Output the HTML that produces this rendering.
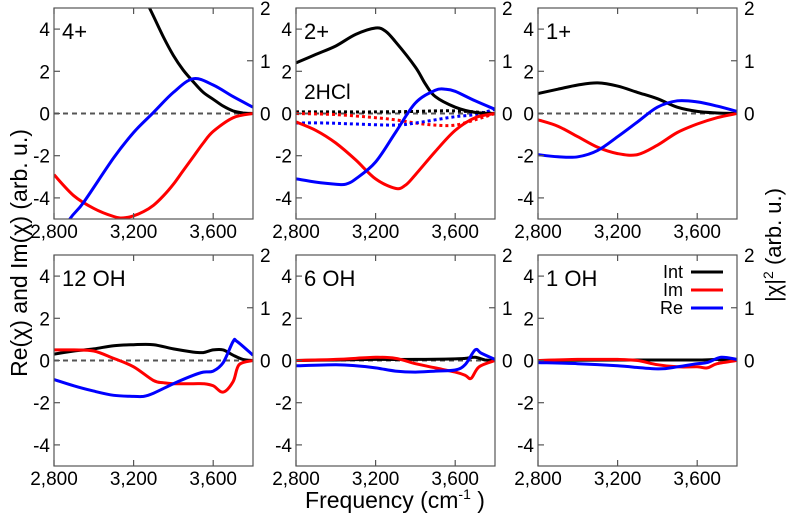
<!DOCTYPE html>
<html><head><meta charset="utf-8"><style>
body{margin:0;background:#fff;}
svg{display:block;font-family:"Liberation Sans",Arial,sans-serif;}
</style></head><body>
<svg id="chart" width="787" height="516" viewBox="0 0 787 516" xmlns="http://www.w3.org/2000/svg"></svg>
<script>
// ---- data (freq in cm^-1, Re/Im in left-axis units, Int in right-axis units) ----
const panelNames = ["4+","2+","1+","12 OH","6 OH","1 OH"];
const xTicks = [2800,3200,3600];
const xTickLabels = ["2,800","3,200","3,600"];
const yTicks = [-4,-2,0,2,4];
const yTickLabels = ["-4","-2","0","2","4"];
const rTicks = [0,1,2];
const rTickLabels = ["0","1","2"];

const f4int=[2800,3000,3200,3280,3350,3400,3450,3500,3550,3600,3650,3700,3750,3800];
const v4int=[4.2,3.5,2.6,2.0,1.45,1.1,0.82,0.6,0.4,0.27,0.14,0.05,0.01,0];
const f4re=[2750,2800,2880,2950,3100,3200,3300,3400,3500,3600,3700,3800];
const v4re=[-7.2,-6.4,-5.0,-4.2,-2.1,-0.9,0.05,1.0,1.65,1.35,0.8,0.3];
const f4im=[2800,2900,3000,3100,3150,3200,3250,3300,3350,3400,3450,3500,3550,3600,3700,3800];
const v4im=[-2.9,-3.9,-4.5,-4.88,-4.95,-4.85,-4.65,-4.35,-3.9,-3.35,-2.7,-2.05,-1.4,-0.85,-0.2,0];

const f2int=[2800,2900,3000,3100,3200,3250,3300,3400,3450,3500,3600,3700,3800];
const v2int=[0.96,1.12,1.28,1.5,1.62,1.56,1.36,0.88,0.56,0.32,0.12,0.02,0];
const f2re=[2800,2900,3000,3050,3100,3200,3300,3400,3500,3550,3600,3700,3800];
const v2re=[-3.1,-3.25,-3.35,-3.35,-3.1,-2.3,-0.9,0.5,1.1,1.15,1.05,0.6,0.2];
const f2im=[2800,2900,3000,3100,3200,3300,3350,3400,3500,3600,3700,3800];
const v2im=[-0.4,-0.8,-1.4,-2.2,-3.1,-3.55,-3.4,-2.9,-1.8,-0.8,-0.2,0];
const f2intD=[2800,3000,3200,3400,3500,3600,3700,3800];
const v2intD=[0.03,0.03,0.03,0.04,0.05,0.05,0.03,0];
const f2reD=[2800,2950,3100,3300,3400,3500,3600,3700,3800];
const v2reD=[-0.45,-0.45,-0.5,-0.55,-0.45,-0.3,-0.15,-0.05,0.2];
const f2imD=[2800,3000,3200,3300,3400,3500,3600,3700,3800];
const v2imD=[0,-0.05,-0.2,-0.3,-0.45,-0.55,-0.55,-0.3,0];

const f1int=[2800,2900,3000,3100,3200,3300,3400,3500,3600,3700,3800];
const v1int=[0.38,0.46,0.54,0.58,0.52,0.4,0.28,0.12,0.04,0.01,0];
const f1re=[2800,2900,3000,3100,3200,3300,3400,3500,3600,3700,3800];
const v1re=[-1.95,-2.05,-2.05,-1.75,-1.1,-0.4,0.3,0.6,0.55,0.35,0.1];
const f1im=[2800,2900,3000,3100,3200,3300,3400,3500,3600,3700,3800];
const v1im=[-0.3,-0.6,-1.1,-1.6,-1.9,-1.95,-1.5,-0.9,-0.5,-0.2,0];

const f12int=[2800,2900,3000,3100,3200,3300,3400,3500,3550,3600,3650,3700,3750,3800];
const v12int=[0.12,0.18,0.22,0.28,0.3,0.3,0.22,0.16,0.15,0.2,0.2,0.1,0.02,0];
const f12re=[2800,2900,3000,3100,3200,3250,3300,3400,3500,3550,3600,3650,3700,3720,3800];
const v12re=[-0.9,-1.2,-1.45,-1.65,-1.7,-1.7,-1.55,-1.1,-0.7,-0.55,-0.5,-0.1,0.9,0.9,0.25];
const f12im=[2800,2900,3000,3100,3200,3300,3350,3400,3500,3550,3600,3650,3700,3730,3800];
const v12im=[0.5,0.5,0.45,0.1,-0.3,-0.95,-1.05,-1.1,-1.1,-1.1,-1.2,-1.5,-1.0,-0.2,0];

const f6int=[2800,3000,3200,3400,3600,3650,3700,3750,3800];
const v6int=[0,0.01,0.02,0.02,0.03,0.04,0.06,0.01,0];
const f6re=[2800,3000,3100,3200,3300,3400,3500,3600,3650,3700,3730,3800];
const v6re=[-0.25,-0.2,-0.25,-0.35,-0.5,-0.55,-0.5,-0.45,-0.2,0.5,0.35,0.05];
const f6im=[2800,3000,3200,3300,3400,3500,3600,3650,3680,3720,3800];
const v6im=[0,0.05,0.15,0.1,-0.15,-0.35,-0.55,-0.7,-0.85,-0.3,0];

const f1oint=[2800,3200,3600,3700,3800];
const v1oint=[0,0.01,0.01,0.02,0];
const f1ore=[2800,3000,3200,3400,3500,3600,3650,3720,3800];
const v1ore=[-0.1,-0.15,-0.25,-0.4,-0.3,-0.15,-0.1,0.15,0.05];
const f1oim=[2800,3000,3200,3300,3400,3500,3600,3650,3700,3800];
const v1oim=[0,0.05,0.05,0,-0.2,-0.3,-0.3,-0.35,-0.15,0];

const panelSeries=[
 [[f4int,v4int,"int",0],[f4im,v4im,"im",0],[f4re,v4re,"re",0]],
 [[f2intD,v2intD,"int",1],[f2imD,v2imD,"im",1],[f2reD,v2reD,"re",1],[f2int,v2int,"int",0],[f2im,v2im,"im",0],[f2re,v2re,"re",0]],
 [[f1int,v1int,"int",0],[f1im,v1im,"im",0],[f1re,v1re,"re",0]],
 [[f12int,v12int,"int",0],[f12im,v12im,"im",0],[f12re,v12re,"re",0]],
 [[f6int,v6int,"int",0],[f6im,v6im,"im",0],[f6re,v6re,"re",0]],
 [[f1oint,v1oint,"int",0],[f1oim,v1oim,"im",0],[f1ore,v1ore,"re",0]]
];

const NS="http://www.w3.org/2000/svg";
const svg=document.getElementById("chart");
const colors={int:"#000",im:"#f00",re:"#00f"};
const lefts=[54,296,538], tops=[8,255], PW=199, PH=211;
function mk(tag,attrs,parent){const e=document.createElementNS(NS,tag);for(const k in attrs)e.setAttribute(k,attrs[k]);(parent||svg).appendChild(e);return e;}
function smooth(pts){let d="M"+pts[0][0].toFixed(1)+","+pts[0][1].toFixed(1);
 for(let i=0;i<pts.length-1;i++){const p0=pts[Math.max(0,i-1)],p1=pts[i],p2=pts[i+1],p3=pts[Math.min(pts.length-1,i+2)];
  const c1=[p1[0]+(p2[0]-p0[0])/6,p1[1]+(p2[1]-p0[1])/6],c2=[p2[0]-(p3[0]-p1[0])/6,p2[1]-(p3[1]-p1[1])/6];
  d+="C"+c1[0].toFixed(1)+","+c1[1].toFixed(1)+" "+c2[0].toFixed(1)+","+c2[1].toFixed(1)+" "+p2[0].toFixed(1)+","+p2[1].toFixed(1);}
 return d;}
const defs=mk("defs",{});
panelNames.forEach((name,pi)=>{
 const x0=lefts[pi%3], y0=tops[Math.floor(pi/3)];
 const xS=f=>x0+(f-2800)/1000*PW;
 const yS=v=>y0+PH/2-v*(PH/10);
 const rS=v=>y0+PH/2-v*(PH/4);
 const g=mk("g",{});
 
 
 const cp=mk("clipPath",{id:"cp"+pi},defs);mk("rect",{x:x0,y:y0,width:PW,height:PH},cp);
 const z=mk("line",{x1:x0,x2:x0+PW,y1:yS(0),y2:yS(0),stroke:"#555","stroke-width":2,"stroke-dasharray":"5,4"},g);
 
 const sg=mk("g",{"clip-path":"url(#cp"+pi+")"},g);
 panelSeries[pi].forEach(([fs,vs,kind,dot])=>{
  const pts=fs.map((f,i)=>[xS(f),kind==="int"?rS(vs[i]):yS(vs[i])]);
  const p=mk("path",{d:smooth(pts),fill:"none",stroke:colors[kind],"stroke-width":3,"stroke-linejoin":"round"},sg);
  if(dot)p.setAttribute("stroke-dasharray","3,3");
  
  
 });
 const fr=mk("rect",{x:x0,y:y0,width:PW,height:PH,fill:"none",stroke:"#555","stroke-width":1.2},g);
 
 yTicks.forEach((t,i)=>{mk("line",{x1:x0,x2:x0+6,y1:yS(t),y2:yS(t),stroke:"#555","stroke-width":1.2},g);
  const tx=mk("text",{x:x0-4,y:yS(t)+7,"text-anchor":"end","font-size":19,fill:"#000"},g);tx.textContent=yTickLabels[i];
  });
 rTicks.forEach((t,i)=>{if(t===1)mk("line",{x1:x0+PW-6,x2:x0+PW,y1:rS(t),y2:rS(t),stroke:"#555","stroke-width":1.2},g);
  const tx=mk("text",{x:x0+PW+7,y:rS(t)+7,"font-size":19,fill:"#000"},g);tx.textContent=rTickLabels[i];
  });
 xTicks.forEach((t,i)=>{mk("line",{x1:xS(t),x2:xS(t),y1:y0,y2:y0+6,stroke:"#555","stroke-width":1.2},g);
  mk("line",{x1:xS(t),x2:xS(t),y1:y0+PH-6,y2:y0+PH,stroke:"#555","stroke-width":1.2},g);
  const tx=mk("text",{x:xS(t),y:y0+PH+19,"text-anchor":"middle","font-size":19,fill:"#000"},g);tx.textContent=xTickLabels[i];
  });
 const lb=mk("text",{x:x0+8,y:y0+31,"font-size":22,fill:"#000"},g);lb.textContent=name;
 
 if(pi===1){const t2=mk("text",{x:x0+8,y:y0+91,"font-size":21,fill:"#000"},g);t2.textContent="2HCl";
  }
});
const lg=mk("g",{});


[["Int","int",272],["Im","im",290],["Re","re",308]].forEach(([t,k,y])=>{
 const tx=mk("text",{x:683,y:y+6,"text-anchor":"end","font-size":18,fill:"#000"},lg);tx.textContent=t;
 
 const ln=mk("line",{x1:691,x2:723,y1:y,y2:y,stroke:colors[k],"stroke-width":3},lg);
 
});
</script>
<svg width="787" height="516" style="position:absolute;left:0;top:0;font-family:'Liberation Sans',Arial,sans-serif">
<text x="0" y="0" transform="translate(27,253) rotate(-90)" text-anchor="middle" font-size="23">Re(χ) and Im(χ) (arb. u.)</text>
<text x="0" y="0" transform="translate(781,245) rotate(-90)" text-anchor="middle" font-size="22">|χ|<tspan font-size="14" dy="-8">2</tspan><tspan dy="8"> (arb. u.)</tspan></text>
<text x="395" y="508" text-anchor="middle" font-size="23">Frequency (cm<tspan font-size="14" dy="-9">-1</tspan><tspan dy="9"> )</tspan></text>
</svg>
</body></html>
